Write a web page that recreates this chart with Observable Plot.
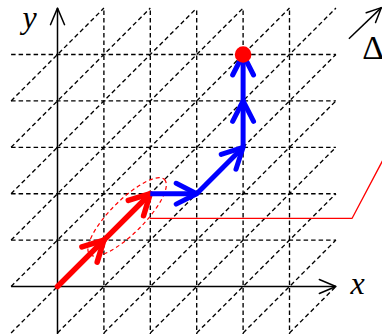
<!DOCTYPE html>
<html>
<head>
<meta charset="utf-8">
<script src="https://cdn.jsdelivr.net/npm/d3@7"></script>
<script src="https://cdn.jsdelivr.net/npm/@observablehq/plot@0.6"></script>
<style>
  html, body { margin: 0; padding: 0; background: white; overflow: hidden; }
</style>
</head>
<body>
<script>
// ---- data (in grid units) ----
const gridXs = [1, 2, 3, 4, 5];            // vertical dashed lines
const gridYs = [1, 2, 3, 4, 5];            // horizontal dashed lines
const diagOffsets = [-6, -5, -4, -3, -2, -1, 0, 1, 2, 3, 4, 5]; // diagonals y = x + c
const gridMin = -1;
const gridMax = 6;

const redPathX = [0, 1, 2];
const redPathY = [0, 1, 2];
const bluePathX = [2, 3, 4, 4, 4];
const bluePathY = [2, 2, 3, 4, 5];
const endPointX = [4];
const endPointY = [5];

const ellipseX = [1.5];
const ellipseY = [1.5];

const leaderX = [2, 6.35, 7.2];
const leaderY = [1.47, 1.47, 3.08];

const deltaArrowX = [6.28, 6.98];
const deltaArrowY = [5.34, 6.01];

const labelText = ["x", "y"];
const labelX = [6.47, -0.6];
const labelY = [0.07, 5.79];
const deltaText = ["Δ"];
const deltaX = [6.57];
const deltaY = [5.13];

// ---- layout ----
const W = 382, H = 334;
const unit = 46.4;               // pixels per grid unit
const ox = 57, oy = 286;         // pixel position of the origin

const segs = (xs, ys) => xs.slice(1).map((x, i) => ({
  x1: xs[i], y1: ys[i], x2: x, y2: ys[i + 1],
  r: 90 - Math.atan2(ys[i + 1] - ys[i], x - xs[i]) * 180 / Math.PI
}));

const chevron = (halfDeg) => ({
  draw(ctx, l) {
    const a = halfDeg * Math.PI / 180;
    ctx.moveTo(-l * Math.sin(a), l * Math.cos(a));
    ctx.lineTo(0, 0);
    ctx.lineTo(l * Math.sin(a), l * Math.cos(a));
  }
});

const ellipseSymbol = (a, b) => ({
  draw(ctx) {
    const k = 0.5523;
    ctx.moveTo(a, 0);
    ctx.bezierCurveTo(a, k * b, k * a, b, 0, b);
    ctx.bezierCurveTo(-k * a, b, -a, k * b, -a, 0);
    ctx.bezierCurveTo(-a, -k * b, -k * a, -b, 0, -b);
    ctx.bezierCurveTo(k * a, -b, a, -k * b, a, 0);
    ctx.closePath();
  }
});

const vLines = gridXs.map(x => ({x1: x, y1: gridMin - 0.1, x2: x, y2: gridMax}));
const hLines = gridYs.map(y => ({x1: gridMin, y1: y, x2: gridMax, y2: y}));
const dLines = diagOffsets.map(c => {
  const x1 = Math.max(gridMin, gridMin - c);
  const x2 = Math.min(gridMax, gridMax - c);
  return {x1, y1: x1 + c, x2, y2: x2 + c};
});
const gridLines = [...vLines, ...hLines, ...dLines];

const axes = [
  {x1: gridMin, y1: 0, x2: gridMax, y2: 0, r: 90},
  {x1: 0, y1: gridMin - 0.1, x2: 0, y2: gridMax, r: 0}
];

const redSegs = segs(redPathX, redPathY);
const blueSegs = segs(bluePathX, bluePathY);
const deltaSegs = segs(deltaArrowX, deltaArrowY);
const leader = leaderX.map((x, i) => ({x, y: leaderY[i]}));
const labels = labelText.map((t, i) => ({t, x: labelX[i], y: labelY[i]}));
const deltaLabel = deltaText.map((t, i) => ({t, x: deltaX[i], y: deltaY[i]}));

const RED = "#ff0000", BLUE = "#0000ff";

const plot = Plot.plot({
  width: W,
  height: H,
  margin: 0,
  x: {domain: [-ox / unit, (W - ox) / unit], axis: null},
  y: {domain: [(oy - H) / unit, oy / unit], axis: null},
  style: {background: "white", overflow: "hidden"},
  marks: [
    // dashed grid
    Plot.link(gridLines, {x1: "x1", y1: "y1", x2: "x2", y2: "y2",
      stroke: "black", strokeWidth: 1.35, strokeDasharray: "4.5,3", clip: true}),
    // axes
    Plot.link(axes, {x1: "x1", y1: "y1", x2: "x2", y2: "y2",
      stroke: "black", strokeWidth: 1.5, clip: true}),
    Plot.vector(axes, {x: "x2", y: "y2", rotate: "r", length: 18, anchor: "start",
      shape: chevron(23), stroke: "black", strokeWidth: 1.5, strokeLinecap: "round", strokeLinejoin: "round"}),
    // red leader line
    Plot.line(leader, {x: "x", y: "y", stroke: RED, strokeWidth: 1.3, clip: true}),
    // red arrows
    Plot.link(redSegs, {x1: "x1", y1: "y1", x2: "x2", y2: "y2",
      stroke: RED, strokeWidth: 5.5, strokeLinecap: "round"}),
    Plot.vector(redSegs, {x: "x2", y: "y2", rotate: "r", length: 23, anchor: "start",
      shape: chevron(28), stroke: RED, strokeWidth: 5.5, strokeLinecap: "round", strokeLinejoin: "round"}),
    // dashed ellipse
    Plot.dot(ellipseX.map((x, i) => ({x, y: ellipseY[i]})), {x: "x", y: "y",
      symbol: ellipseSymbol(1.14 * unit, 0.36 * unit), rotate: -45,
      fill: "none", stroke: RED, strokeWidth: 1.2, strokeDasharray: "4,3"}),
    // blue arrows
    Plot.link(blueSegs, {x1: "x1", y1: "y1", x2: "x2", y2: "y2",
      stroke: BLUE, strokeWidth: 5, strokeLinecap: "butt"}),
    Plot.vector(blueSegs, {x: "x2", y: "y2", rotate: "r", length: 23, anchor: "start",
      shape: chevron(27), stroke: BLUE, strokeWidth: 5, strokeLinecap: "round", strokeLinejoin: "round"}),
    // end point
    Plot.dot(endPointX.map((x, i) => ({x, y: endPointY[i]})), {x: "x", y: "y",
      r: 8.3, fill: RED, stroke: "none"}),
    // delta arrow
    Plot.link(deltaSegs, {x1: "x1", y1: "y1", x2: "x2", y2: "y2",
      stroke: "black", strokeWidth: 1.5}),
    Plot.vector(deltaSegs, {x: "x2", y: "y2", rotate: "r", length: 16, anchor: "start",
      shape: chevron(25), stroke: "black", strokeWidth: 1.5, strokeLinecap: "round", strokeLinejoin: "round"}),
    // labels
    Plot.text(labels, {x: "x", y: "y", text: "t", fontSize: 32,
      fontFamily: "Liberation Serif", fontStyle: "italic", textAnchor: "middle", lineAnchor: "middle", fill: "black"}),
    Plot.text(deltaLabel, {x: "x", y: "y", text: "t", fontSize: 34,
      fontFamily: "Liberation Serif", textAnchor: "start", lineAnchor: "middle", fill: "black"})
  ]
});

document.body.append(plot);
</script>
</body>
</html>
